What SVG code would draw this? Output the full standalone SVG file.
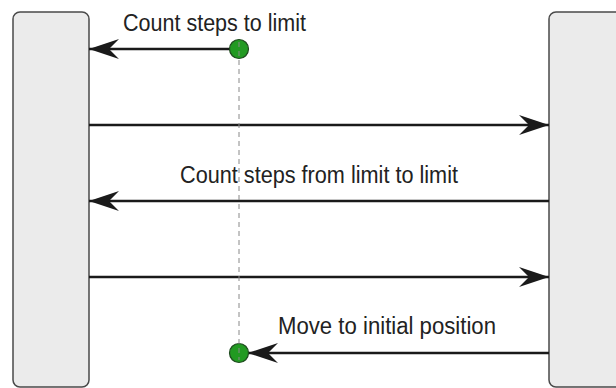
<svg xmlns="http://www.w3.org/2000/svg" width="616" height="388" viewBox="0 0 616 388">
<style>
.lane{fill:#ebebeb;stroke:#4a4a4a;stroke-width:1.5}
.msg{stroke:#1a1a1a;stroke-width:2.5;fill:none}
.dot{fill:#229a22;stroke:#1f4a1f;stroke-width:1.2}
.lbl{font-family:"Liberation Sans",Arial,sans-serif;font-size:23px;fill:#222}
.life{stroke:#888;stroke-width:1;stroke-dasharray:5,4;fill:none}
</style>
<defs>
<marker id="ah" viewBox="0 0 30 20" refX="30" refY="10" markerWidth="30" markerHeight="20" markerUnits="userSpaceOnUse" orient="auto">
<path d="M0,0 L30,10 L0,20 L10,10 Z" fill="#1a1a1a"/>
</marker>
</defs>
<g id="left-lane"><rect class="lane" x="13" y="12" width="76" height="375" rx="7"/></g>
<g id="right-lane"><rect class="lane" x="549" y="12" width="80" height="375" rx="7"/></g>
<g id="connectors">
<line class="msg" x1="230" y1="49" x2="89" y2="49" marker-end="url(#ah)"/>
<line class="msg" x1="89" y1="125" x2="549" y2="125" marker-end="url(#ah)"/>
<line class="msg" x1="549" y1="201" x2="89" y2="201" marker-end="url(#ah)"/>
<line class="msg" x1="89" y1="277" x2="549" y2="277" marker-end="url(#ah)"/>
<line class="msg" x1="549" y1="353" x2="248" y2="353" marker-end="url(#ah)"/>
</g>
<g id="dot-start"><circle class="dot" cx="239" cy="49" r="9.5"/></g>
<g id="dot-end"><circle class="dot" cx="239" cy="353" r="9.5"/></g>
<g id="lifeline"><line class="life" x1="239" y1="42" x2="239" y2="360"/></g>
<g id="labels">
<text class="lbl" x="123" y="31" textLength="183" lengthAdjust="spacingAndGlyphs">Count steps to limit</text>
<text class="lbl" x="180" y="183" textLength="278" lengthAdjust="spacingAndGlyphs">Count steps from limit to limit</text>
<text class="lbl" x="278" y="334" textLength="218" lengthAdjust="spacingAndGlyphs">Move to initial position</text>
</g>
</svg>
